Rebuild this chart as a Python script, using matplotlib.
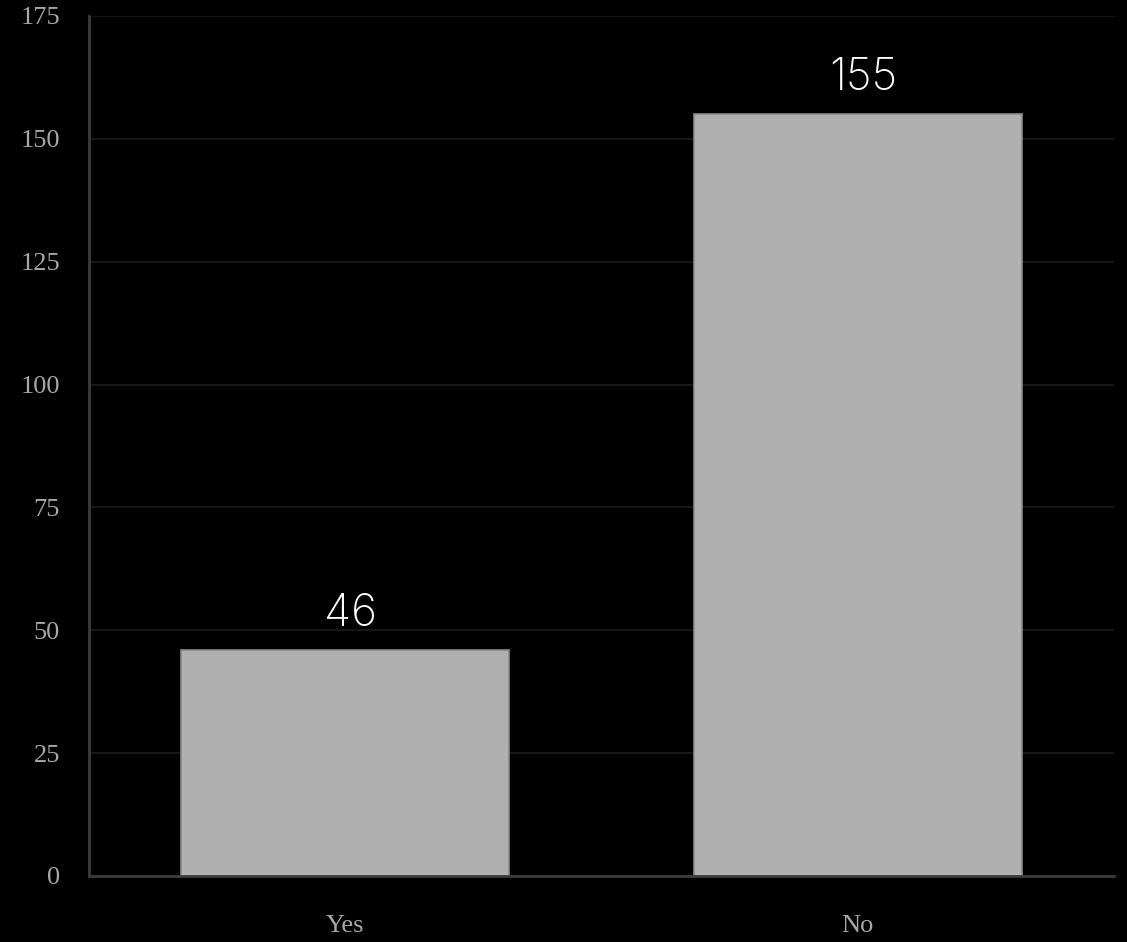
import matplotlib
matplotlib.use("Agg")
import matplotlib.pyplot as plt

categories = ["Yes", "No"]
values = [46, 155]
yticks = [0, 25, 50, 75, 100, 125, 150, 175]

fig = plt.figure(figsize=(11.27, 9.42), dpi=100, facecolor="black")
ax = fig.add_axes([89/1127, 1-876/942, (1114-89)/1127, (876-16)/942])
ax.set_facecolor("black")

x = list(range(len(categories)))
ax.bar(x, values, width=0.64, color="#b0b0b0", edgecolor="#8a8a8a", linewidth=1.2, zorder=3)

ax.set_xlim(-0.5, 1.5)
ax.set_ylim(0, 175)
ax.set_yticks(yticks)
ax.set_yticklabels([str(t) for t in yticks])
ax.set_xticks(x)
ax.set_xticklabels(categories)

ax.grid(axis="y", color="#161616", linewidth=1.6, zorder=0)
ax.set_axisbelow(True)

for s in ["top", "right"]:
    ax.spines[s].set_visible(False)
for s in ["left", "bottom"]:
    ax.spines[s].set_color("#3c3c3c")
    ax.spines[s].set_linewidth(2)
    ax.spines[s].set_zorder(4)

ax.tick_params(axis="both", length=0, colors="#a8a8a8", labelsize=19)
ax.tick_params(axis="y", pad=21)
ax.tick_params(axis="x", pad=28)
for lab in ax.get_xticklabels() + ax.get_yticklabels():
    lab.set_fontfamily("Liberation Serif")

for xi, v in zip(x, values):
    ax.annotate(str(v), (xi, v), xytext=(4, 11), textcoords="offset points",
                ha="center", va="bottom", color="white", fontsize=32,
                fontfamily="Inter", fontweight="light")

fig.savefig("out.png", dpi=100, facecolor="black")
